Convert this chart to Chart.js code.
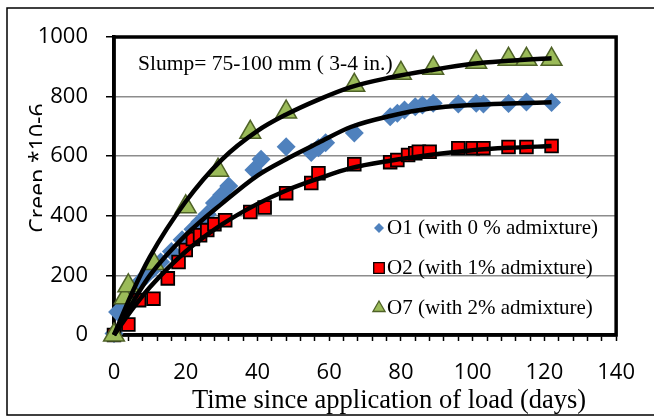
<!DOCTYPE html>
<html>
<head>
<meta charset="utf-8">
<script src="https://cdn.jsdelivr.net/npm/chart.js@4.4.1/dist/chart.umd.min.js"></script>
<style>
  html, body { margin: 0; padding: 0; background: #fff; }
</style>
</head>
<body>
<canvas id="chart" width="654" height="416"></canvas>
<script>
// measured points (days, creep *10-6)
const o1Days = [0, 1, 3, 5, 7, 9, 11, 13, 16, 19, 22, 24, 26, 28, 30, 32, 39, 41, 48, 55, 57, 59, 67, 77, 79, 81, 84, 86, 89, 96, 101, 103, 110, 115, 122];
const o1Creep = [5, 77, 110, 150, 175, 200, 222, 245, 280, 320, 355, 380, 405, 443, 470, 500, 554, 590, 632, 612, 628, 645, 678, 732, 744, 755, 766, 772, 778, 775, 778, 775, 777, 782, 780];

const o2Days = [0, 4, 7, 11, 15, 18, 20, 22, 24, 26, 28, 31, 38, 42, 48, 55, 57, 67, 77, 79, 82, 84, 85, 88, 96, 100, 103, 110, 115, 122];
const o2Creep = [0, 35, 117, 122, 190, 245, 285, 322, 335, 352, 372, 385, 413, 428, 476, 510, 543, 573, 580, 587, 604, 610, 615, 615, 627, 627, 627, 631, 631, 634];

const o7Days = [0, 3, 4, 11, 20, 29, 38, 48, 67, 80, 89, 101, 110, 115, 122];
const o7Creep = [0, 125, 165, 240, 430, 553, 680, 748, 838, 878, 895, 915, 925, 925, 925];

// trend curves
const fitDays = [0, 5, 10, 20, 30, 40, 48, 57, 66, 77, 88, 100, 110, 122];
const fitO1 = [0, 105, 200, 335, 440, 535, 590, 645, 698, 735, 760, 772, 777, 781];
const fitO2 = [0, 85, 160, 280, 370, 440, 485, 525, 560, 585, 604, 620, 628, 634];
const fitO7 = [0, 140, 262, 448, 588, 685, 740, 790, 832, 864, 888, 910, 920, 929];

const seriesLabels = ['O1 (with 0 % admixture)', 'O2 (with 1% admixture)', 'O7 (with 2% admixture)'];
const xTitle = 'Time since application of load (days)';
const yTitle = 'Creep *10-6';
const note = 'Slump= 75-100 mm ( 3-4 in.)';

const pts = (xs, ys) => xs.map((x, i) => ({ x: x, y: ys[i] }));

const fitSet = (ys) => ({
  data: pts(fitDays, ys),
  showLine: true,
  borderColor: '#000',
  borderWidth: 4.5,
  pointRadius: 0,
  cubicInterpolationMode: 'monotone',
  order: 0,
  clip: false
});

const markerSets = [
  { label: seriesLabels[0], data: pts(o1Days, o1Creep), pointStyle: 'rectRot', pointRadius: 9.5,
    backgroundColor: '#4F81BD', borderColor: '#4F81BD', borderWidth: 0, order: 3, clip: false },
  { label: seriesLabels[1], data: pts(o2Days, o2Creep), pointStyle: 'rect', pointRadius: 9,
    backgroundColor: '#FF0000', borderColor: '#000', borderWidth: 1.8, order: 2, clip: false },
  { label: seriesLabels[2], data: pts(o7Days, o7Creep), pointStyle: 'triangle', pointRadius: 12,
    backgroundColor: '#9BBB59', borderColor: '#4F6228', borderWidth: 1.5, order: 1, clip: false }
];

const legendSize = [5, 7.5, 7];
const legendY = [228, 268, 308];

const extras = {
  id: 'extras',
  beforeDatasetsDraw(chart) {
    const { ctx, chartArea: a } = chart;
    ctx.save();
    ctx.strokeStyle = '#000';
    ctx.lineWidth = 3.5;
    ctx.strokeRect(a.left, a.top, a.right - a.left, a.bottom - a.top);
    ctx.restore();
  },
  afterDraw(chart) {
    const { ctx } = chart;
    ctx.save();
    // outer frame
    ctx.strokeStyle = '#000';
    ctx.lineWidth = 1.5;
    ctx.beginPath();
    ctx.moveTo(660, 8); ctx.lineTo(7, 8); ctx.lineTo(7, 415); ctx.lineTo(660, 415);
    ctx.stroke();

    ctx.fillStyle = '#000';
    ctx.font = '21.5px "Liberation Serif"';
    ctx.textBaseline = 'middle';
    ctx.textAlign = 'left';
    ctx.fillText(note, 138, 64);

    // legend
    ctx.font = '21px "Liberation Serif"';
    markerSets.forEach((ds, i) => {
      ctx.fillStyle = ds.backgroundColor;
      ctx.strokeStyle = ds.borderColor;
      ctx.lineWidth = ds.borderWidth > 0 ? 1.3 : 0;
      Chart.helpers.drawPoint(ctx, { pointStyle: ds.pointStyle, radius: legendSize[i], rotation: 0,
        borderWidth: ds.borderWidth > 0 ? 1.3 : 0 }, 379, legendY[i]);
      ctx.fillStyle = '#000';
      ctx.fillText(ds.label, 387, legendY[i]);
    });

    // x title
    ctx.font = '26.5px "Liberation Serif"';
    ctx.textAlign = 'center';
    ctx.fillText(xTitle, 389, 401);

    // y title, clipped like the original
    ctx.beginPath();
    ctx.rect(0, 0, 42, 416);
    ctx.clip();
    ctx.translate(46, 168);
    ctx.rotate(-Math.PI / 2);
    ctx.font = '23px "Open Sans"';
    ctx.textBaseline = 'alphabetic';
    ctx.fillText(yTitle, 0, 0);
    ctx.restore();
  }
};

new Chart(document.getElementById('chart'), {
  type: 'scatter',
  data: {
    datasets: [fitSet(fitO1), fitSet(fitO2), fitSet(fitO7)].concat(markerSets)
  },
  options: {
    responsive: false,
    animation: false,
    events: [],
    layout: { padding: { left: 0, top: 37, right: 32, bottom: 0 } },
    plugins: { legend: { display: false }, tooltip: { enabled: false } },
    scales: {
      x: {
        type: 'linear', min: 0, max: 140,
        ticks: {
          stepSize: 4, autoSkip: false, maxRotation: 0, padding: 19, color: '#000',
          font: { family: 'Open Sans', size: 22 },
          callback: (v) => (v % 20 === 0 ? String(v) : '')
        },
        grid: { drawOnChartArea: false, tickLength: 6, tickColor: '#000', tickWidth: 1.5 },
        border: { color: '#000', width: 3.5 },
        afterFit: (s) => { s.height = 81; }
      },
      y: {
        min: 0, max: 1000,
        ticks: { stepSize: 200, padding: 18, color: '#000', font: { family: 'Open Sans', size: 22 },
          callback: (v) => String(v) },
        grid: { color: '#8c8c8c', lineWidth: 1.5, tickLength: 8, tickColor: '#000', tickWidth: 1.5 },
        border: { color: '#000', width: 3.5 },
        afterFit: (s) => { s.width = 114; }
      }
    }
  },
  plugins: [extras]
});
</script>
</body>
</html>
